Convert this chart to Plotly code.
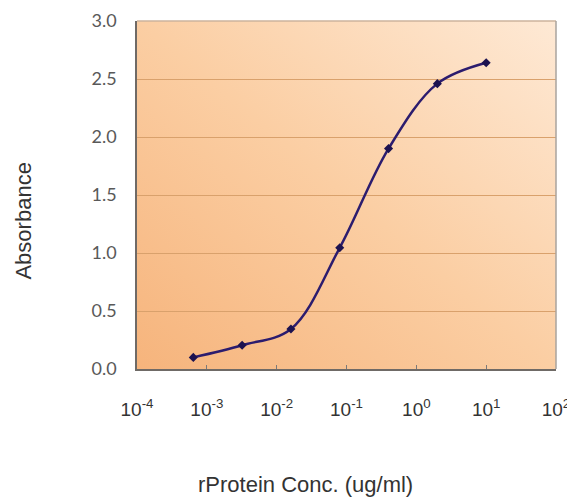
import base64
import plotly.graph_objects as go

# Data
conc = [0.00064, 0.0032, 0.016, 0.08, 0.4, 2, 10]
absorbance = [0.10, 0.205, 0.345, 1.045, 1.90, 2.46, 2.64]

x_tick_vals = [1e-4, 1e-3, 1e-2, 1e-1, 1e0, 1e1, 1e2]
x_tick_text = ["10<sup>-4</sup>", "10<sup>-3</sup>", "10<sup>-2</sup>", "10<sup>-1</sup>",
               "10<sup>0</sup>", "10<sup>1</sup>", "10<sup>2</sup>"]
y_tick_vals = [0.0, 0.5, 1.0, 1.5, 2.0, 2.5, 3.0]
y_tick_text = ["0.0", "0.5", "1.0", "1.5", "2.0", "2.5", "3.0"]

x_title = "rProtein Conc. (ug/ml)"
y_title = "Absorbance"

# Gradient background for the plot area (style only)
svg = (
    '<svg xmlns="http://www.w3.org/2000/svg" width="400" height="340" viewBox="0 0 400 340" preserveAspectRatio="none">'
    '<defs><linearGradient id="g" x1="0" y1="1" x2="1" y2="0">'
    '<stop offset="0" stop-color="#f6b47c"/>'
    '<stop offset="0.5" stop-color="#fbcea3"/>'
    '<stop offset="1" stop-color="#fee9d5"/>'
    '</linearGradient></defs>'
    '<rect width="400" height="340" fill="url(#g)"/></svg>'
)
bg_src = "data:image/svg+xml;base64," + base64.b64encode(svg.encode()).decode()

title_font = dict(family="Liberation Sans, Arial", size=22, color="#333333")

fig = go.Figure()
fig.add_trace(go.Scatter(
    x=conc, y=absorbance,
    mode="lines+markers",
    line=dict(color="#2c1c6e", width=2.5, shape="spline", smoothing=1.0),
    marker=dict(symbol="diamond", size=7, color="#1c1250"),
    showlegend=False,
    hoverinfo="x+y",
))

fig.update_layout(
    width=567, height=489,
    margin=dict(l=129, r=19, t=13, b=128, autoexpand=False),
    paper_bgcolor="white",
    plot_bgcolor="#fbcea3",
    images=[dict(source=bg_src, xref="paper", yref="paper", x=0, y=1,
                 sizex=1, sizey=1, sizing="stretch", xanchor="left", yanchor="top",
                 layer="below")],
    xaxis=dict(
        type="log", range=[-4, 2], automargin=False,
        tickvals=x_tick_vals, ticktext=x_tick_text,
        ticks="inside", ticklen=4, tickcolor="#7a7a7a", tickwidth=1,
        showgrid=False, zeroline=False,
        showline=True, linecolor="#6f6a66", linewidth=1.5,
        tickfont=dict(family="Liberation Sans, Arial", size=19, color="#333333"),
        ticklabelstandoff=22,
    ),
    yaxis=dict(
        range=[0, 3], automargin=False,
        tickvals=y_tick_vals, ticktext=y_tick_text,
        ticks="", showgrid=True, gridcolor="#d9a16c", gridwidth=1,
        zeroline=False,
        showline=True, linecolor="#6f6a66", linewidth=1.5,
        tickfont=dict(family="Lato, Carlito, sans-serif", size=18, color="#595959"),
        ticklabelstandoff=15,
    ),
    annotations=[
        dict(text=x_title, xref="paper", yref="paper", x=0.403, y=-0.333,
             xanchor="center", yanchor="middle", showarrow=False, font=title_font),
        dict(text=y_title, xref="paper", yref="paper", x=-0.271, y=0.425,
             xanchor="center", yanchor="middle", showarrow=False, textangle=-90,
             font=title_font),
    ],
    shapes=[
        dict(type="line", xref="paper", yref="paper", x0=0, x1=1, y0=1, y1=1,
             line=dict(color="#cdb39c", width=1.5)),
        dict(type="line", xref="paper", yref="paper", x0=1, x1=1, y0=0, y1=1,
             line=dict(color="#a8a39e", width=1.5)),
    ],
)

fig.write_html("out.html")
